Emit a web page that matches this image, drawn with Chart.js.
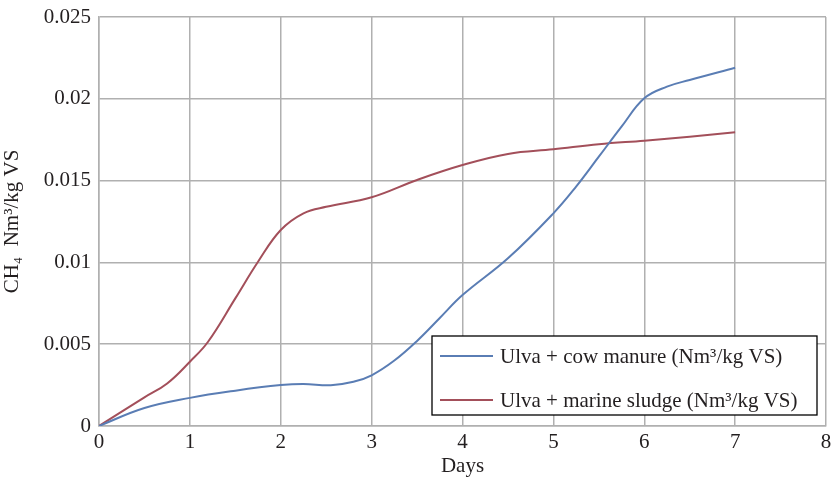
<!DOCTYPE html>
<html>
<head>
<meta charset="utf-8">
<script src="https://cdn.jsdelivr.net/npm/chart.js@4/dist/chart.umd.min.js"></script>
<style>
html,body{margin:0;padding:0;background:#fff;}
#wrap{width:832px;height:479px;}
</style>
</head>
<body>
<div id="wrap"><canvas id="c" width="832" height="479"></canvas></div>
<script>
const days = [0, 0.5, 1, 1.5, 2, 2.25, 2.55, 2.8, 3, 3.25, 3.5, 3.75, 4, 4.5, 5, 5.25, 5.5, 5.75, 6, 6.25, 6.5, 7];
const cowManure = [0, 0.0011, 0.00172, 0.00216, 0.0025, 0.00257, 0.00249, 0.0027, 0.0031, 0.0040, 0.0052, 0.0066, 0.0080, 0.01025, 0.0130, 0.01463, 0.01646, 0.0183, 0.02003, 0.02074, 0.02115, 0.0219];
const sludgeDays = [0, 0.5, 0.75, 1, 1.2, 1.5, 1.75, 2, 2.25, 2.5, 3, 3.5, 4, 4.5, 5, 5.5, 6, 6.5, 7];
const marineSludge = [0, 0.00175, 0.0026, 0.00393, 0.00515, 0.0078, 0.01004, 0.01198, 0.0130, 0.0134, 0.01398, 0.01504, 0.01595, 0.01663, 0.01691, 0.01722, 0.01744, 0.01768, 0.01795];
const seriesLabels = ['Ulva + cow manure (Nm\u00B3/kg VS)', 'Ulva + marine sludge (Nm\u00B3/kg VS)'];
const yTickLabels = ['0', '0.005', '0.01', '0.015', '0.02', '0.025'];
const xTickLabels = ['0', '1', '2', '3', '4', '5', '6', '7', '8'];
const xTitle = 'Days';
const yTitle = 'CH\u2084  Nm\u00B3/kg VS';

const FONT = '"Liberation Serif", "DejaVu Serif", serif';
const TXT = '#231f20';

const boxLegend = {
  id: 'boxLegend',
  afterDraw(chart) {
    const ctx = chart.ctx, a = chart.chartArea;
    const right = a.right - 9, bottom = a.bottom - 11;
    const w = 385, h = 79;
    const left = right - w, top = bottom - h;
    ctx.save();
    ctx.fillStyle = '#fff';
    ctx.fillRect(left, top, w, h);
    ctx.strokeStyle = '#000';
    ctx.lineWidth = 1.3;
    ctx.strokeRect(left, top, w, h);
    ctx.font = '21px ' + FONT;
    ctx.textBaseline = 'middle';
    chart.data.datasets.forEach((ds, i) => {
      const y = top + 20 + i * 44;
      ctx.strokeStyle = ds.borderColor;
      ctx.lineWidth = 2;
      ctx.beginPath();
      ctx.moveTo(left + 8, y);
      ctx.lineTo(left + 61, y);
      ctx.stroke();
      ctx.fillStyle = TXT;
      ctx.fillText(ds.label, left + 68, y + 1);
    });
    ctx.restore();
  }
};

new Chart(document.getElementById('c'), {
  type: 'line',
  data: {
    datasets: [
      { label: seriesLabels[0], data: days.map((d, i) => ({x: d, y: cowManure[i]})),
        borderColor: '#5a7db4', borderWidth: 2, pointRadius: 0, tension: 0.4, fill: false },
      { label: seriesLabels[1], data: sludgeDays.map((d, i) => ({x: d, y: marineSludge[i]})),
        borderColor: '#a34f5a', borderWidth: 2, pointRadius: 0, tension: 0.4, fill: false }
    ]
  },
  options: {
    responsive: false,
    animation: false,
    layout: { padding: { top: 17, right: 6, left: 0, bottom: 0 } },
    plugins: { legend: { display: false }, tooltip: { enabled: false } },
    scales: {
      x: {
        type: 'linear', min: 0, max: 8,
        ticks: { stepSize: 1, color: TXT, font: { family: FONT, size: 21 }, padding: 4,
          callback: (v, i) => xTickLabels[i] },
        grid: { color: '#b0b0b0', lineWidth: 1.5, drawTicks: false },
        border: { color: '#b0b0b0', width: 1.5 },
        title: { display: true, text: xTitle, color: TXT, font: { family: FONT, size: 21 }, padding: { top: 0, bottom: 0 } },
        afterFit(s) { s.height = 53; s.paddingRight = 0; s.paddingLeft = 0; }
      },
      y: {
        min: 0, max: 0.025,
        ticks: { stepSize: 0.005, color: TXT, font: { family: FONT, size: 21 }, padding: 8,
          callback: (v, i) => yTickLabels[i] },
        grid: { color: '#b0b0b0', lineWidth: 1.5, drawTicks: false },
        border: { color: '#b0b0b0', width: 1.5 },
        title: { display: true, text: yTitle, color: TXT, font: { family: FONT, size: 21 }, padding: { top: 0, bottom: 4 } },
        afterFit(s) { s.width = 99; s.paddingTop = 0; s.paddingBottom = 0; }
      }
    }
  },
  plugins: [boxLegend]
});
</script>
</body>
</html>
